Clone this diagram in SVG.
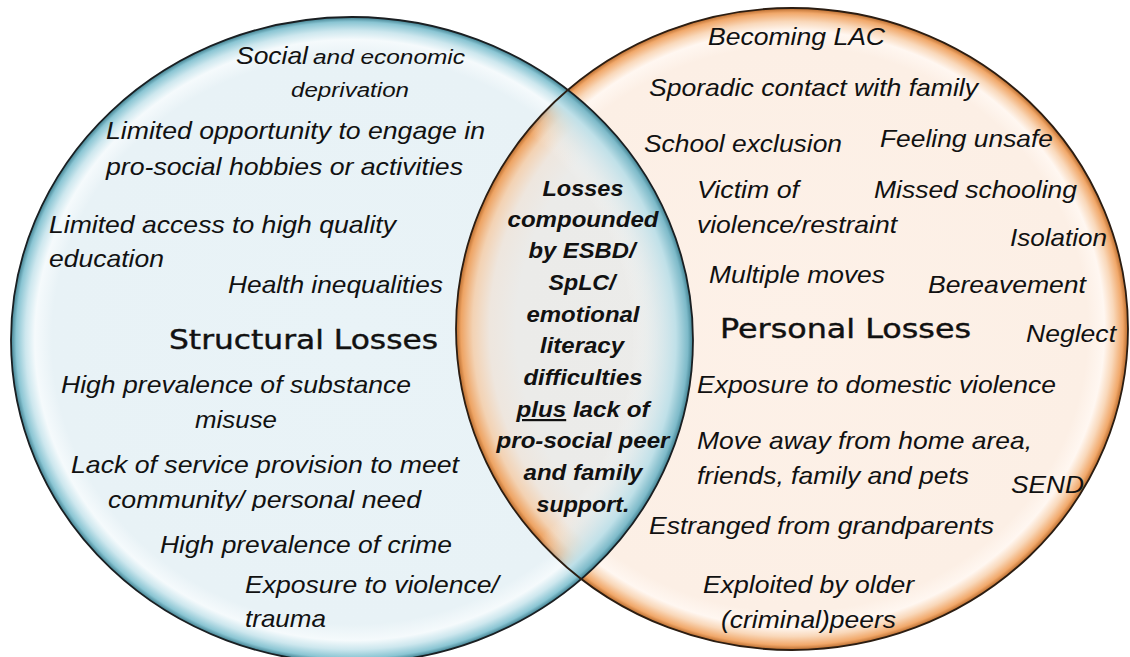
<svg xmlns="http://www.w3.org/2000/svg" width="1130" height="657" viewBox="0 0 1130 657">
  <style>
    .t { font-family: "Liberation Sans", Arial, sans-serif; font-style: italic; font-size: 24px; fill: #111; }
    .s { font-size: 20px; }
    .b { font-weight: bold; font-size: 22px; text-anchor: middle; }
    .h { font-family: "DejaVu Sans", Verdana, sans-serif; font-size: 26px; fill: #111; stroke: #111; stroke-width: 0.4px; }
    .ring { fill: none; stroke-width: 1.8; }
  </style>
  <defs>
    <radialGradient id="gBlue" cx="0.5" cy="0.5" r="0.5">
      <stop offset="0" stop-color="#e9f3f7"/>
      <stop offset="0.88" stop-color="#e8f2f6"/>
      <stop offset="0.93" stop-color="#f5fafc"/>
      <stop offset="0.958" stop-color="#cde7ee"/>
      <stop offset="0.985" stop-color="#8ac5d3"/>
      <stop offset="1" stop-color="#3f7f8f"/>
    </radialGradient>
    <radialGradient id="gOrange" cx="0.5" cy="0.5" r="0.5">
      <stop offset="0" stop-color="#fdf1e8"/>
      <stop offset="0.88" stop-color="#fcefe5"/>
      <stop offset="0.93" stop-color="#fff7f1"/>
      <stop offset="0.958" stop-color="#f9d8ba"/>
      <stop offset="0.985" stop-color="#f1a86a"/>
      <stop offset="1" stop-color="#b86a2c"/>
    </radialGradient>
    <radialGradient id="gLens" cx="0.5" cy="0.5" r="0.5">
      <stop offset="0" stop-color="#ececea"/>
      <stop offset="0.82" stop-color="#ebebe9"/>
      <stop offset="0.9" stop-color="#eee6de"/>
      <stop offset="0.95" stop-color="#f3d2b3"/>
      <stop offset="0.985" stop-color="#eea464"/>
      <stop offset="1" stop-color="#b86a2c"/>
    </radialGradient>
    <radialGradient id="gBlueRim" cx="0.5" cy="0.5" r="0.5">
      <stop offset="0" stop-color="#ffffff" stop-opacity="0"/>
      <stop offset="0.82" stop-color="#ffffff" stop-opacity="0"/>
      <stop offset="0.9" stop-color="#cfe7ee" stop-opacity="0.5"/>
      <stop offset="0.95" stop-color="#bfe0e8"/>
      <stop offset="0.985" stop-color="#7dbac9"/>
      <stop offset="1" stop-color="#3f7f8f"/>
    </radialGradient>
    <clipPath id="cpLeft"><ellipse cx="352" cy="340" rx="341" ry="323"/></clipPath>
    <clipPath id="cpRight"><ellipse cx="792" cy="329" rx="336" ry="321"/></clipPath>
    <clipPath id="cpCom"><rect x="0" y="0" width="1130" height="511"/></clipPath>
  </defs>

  <rect width="1130" height="657" fill="#ffffff"/>

  <g id="structural-losses">
    <ellipse cx="352" cy="340" rx="341" ry="323" fill="url(#gBlue)"/>
  </g>
  <g id="personal-losses">
    <ellipse cx="792" cy="329" rx="336" ry="321" fill="url(#gOrange)"/>
  </g>
  <g id="overlap">
    <g clip-path="url(#cpLeft)">
      <ellipse cx="792" cy="329" rx="336" ry="321" fill="url(#gLens)"/>
    </g>
    <g clip-path="url(#cpRight)">
      <ellipse cx="352" cy="340" rx="341" ry="323" fill="url(#gBlueRim)"/>
    </g>
  </g>
  <g id="outlines">
    <ellipse class="ring" cx="352" cy="340" rx="341" ry="323" stroke="#1a1f22"/>
    <ellipse class="ring" cx="792" cy="329" rx="336" ry="321" stroke="#2b1d12"/>
  </g>

  <g id="structural-text">
    <text class="t" x="236" y="64" textLength="72" lengthAdjust="spacingAndGlyphs">Social</text>
    <text class="t s" x="313" y="64" textLength="152" lengthAdjust="spacingAndGlyphs">and economic</text>
    <text class="t s" x="291" y="97" textLength="118" lengthAdjust="spacingAndGlyphs">deprivation</text>
    <text class="t" x="106" y="139" textLength="379" lengthAdjust="spacingAndGlyphs">Limited opportunity to engage in</text>
    <text class="t" x="106" y="175" textLength="357" lengthAdjust="spacingAndGlyphs">pro-social hobbies or activities</text>
    <text class="t" x="49" y="233" textLength="347" lengthAdjust="spacingAndGlyphs">Limited access to high quality</text>
    <text class="t" x="49" y="267" textLength="115" lengthAdjust="spacingAndGlyphs">education</text>
    <text class="t" x="228" y="293" textLength="215" lengthAdjust="spacingAndGlyphs">Health inequalities</text>
    <text class="h" x="169" y="349" textLength="269" lengthAdjust="spacingAndGlyphs">Structural Losses</text>
    <text class="t" x="61" y="393" textLength="350" lengthAdjust="spacingAndGlyphs">High prevalence of substance</text>
    <text class="t" x="195" y="428" textLength="82" lengthAdjust="spacingAndGlyphs">misuse</text>
    <text class="t" x="71" y="473" textLength="388" lengthAdjust="spacingAndGlyphs">Lack of service provision to meet</text>
    <text class="t" x="108" y="508" textLength="313" lengthAdjust="spacingAndGlyphs" clip-path="url(#cpCom)">community/ personal need</text>
    <text class="t" x="160" y="553" textLength="292" lengthAdjust="spacingAndGlyphs">High prevalence of crime</text>
    <text class="t" x="245" y="593" textLength="254" lengthAdjust="spacingAndGlyphs">Exposure to violence/</text>
    <text class="t" x="245" y="627" textLength="81" lengthAdjust="spacingAndGlyphs">trauma</text>
  </g>

  <g id="personal-text">
    <text class="t" x="708" y="45" textLength="177" lengthAdjust="spacingAndGlyphs">Becoming LAC</text>
    <text class="t" x="649" y="96" textLength="329" lengthAdjust="spacingAndGlyphs">Sporadic contact with family</text>
    <text class="t" x="644" y="152" textLength="198" lengthAdjust="spacingAndGlyphs">School exclusion</text>
    <text class="t" x="880" y="147" textLength="173" lengthAdjust="spacingAndGlyphs">Feeling unsafe</text>
    <text class="t" x="697" y="198" textLength="102" lengthAdjust="spacingAndGlyphs">Victim of</text>
    <text class="t" x="874" y="198" textLength="203" lengthAdjust="spacingAndGlyphs">Missed schooling</text>
    <text class="t" x="697" y="233" textLength="200" lengthAdjust="spacingAndGlyphs">violence/restraint</text>
    <text class="t" x="1010" y="246" textLength="97" lengthAdjust="spacingAndGlyphs">Isolation</text>
    <text class="t" x="709" y="283" textLength="176" lengthAdjust="spacingAndGlyphs">Multiple moves</text>
    <text class="t" x="928" y="293" textLength="158" lengthAdjust="spacingAndGlyphs">Bereavement</text>
    <text class="h" x="720" y="338" textLength="251" lengthAdjust="spacingAndGlyphs">Personal Losses</text>
    <text class="t" x="1026" y="342" textLength="90" lengthAdjust="spacingAndGlyphs">Neglect</text>
    <text class="t" x="697" y="393" textLength="359" lengthAdjust="spacingAndGlyphs">Exposure to domestic violence</text>
    <text class="t" x="697" y="449" textLength="335" lengthAdjust="spacingAndGlyphs">Move away from home area,</text>
    <text class="t" x="697" y="484" textLength="272" lengthAdjust="spacingAndGlyphs">friends, family and pets</text>
    <text class="t" x="1011" y="493" textLength="73" lengthAdjust="spacingAndGlyphs">SEND</text>
    <text class="t" x="649" y="534" textLength="345" lengthAdjust="spacingAndGlyphs">Estranged from grandparents</text>
    <text class="t" x="703" y="593" textLength="211" lengthAdjust="spacingAndGlyphs">Exploited by older</text>
    <text class="t" x="721" y="628" textLength="175" lengthAdjust="spacingAndGlyphs">(criminal)peers</text>
  </g>

  <g id="overlap-text">
    <text class="t b" x="583" y="196" textLength="81" lengthAdjust="spacingAndGlyphs">Losses</text>
    <text class="t b" x="583" y="227" textLength="151" lengthAdjust="spacingAndGlyphs">compounded</text>
    <text class="t b" x="582" y="258" textLength="107" lengthAdjust="spacingAndGlyphs">by ESBD/</text>
    <text class="t b" x="582" y="290" textLength="67" lengthAdjust="spacingAndGlyphs">SpLC/</text>
    <text class="t b" x="583" y="322" textLength="113" lengthAdjust="spacingAndGlyphs">emotional</text>
    <text class="t b" x="582" y="353" textLength="84" lengthAdjust="spacingAndGlyphs">literacy</text>
    <text class="t b" x="583" y="385" textLength="119" lengthAdjust="spacingAndGlyphs">difficulties</text>
    <text class="t b" x="583" y="417" textLength="133" lengthAdjust="spacingAndGlyphs"><tspan text-decoration="underline">plus</tspan> lack of</text>
    <text class="t b" x="583" y="448" textLength="173" lengthAdjust="spacingAndGlyphs">pro-social peer</text>
    <text class="t b" x="583" y="480" textLength="119" lengthAdjust="spacingAndGlyphs">and family</text>
    <text class="t b" x="583" y="512" textLength="93" lengthAdjust="spacingAndGlyphs">support.</text>
  </g>
</svg>
